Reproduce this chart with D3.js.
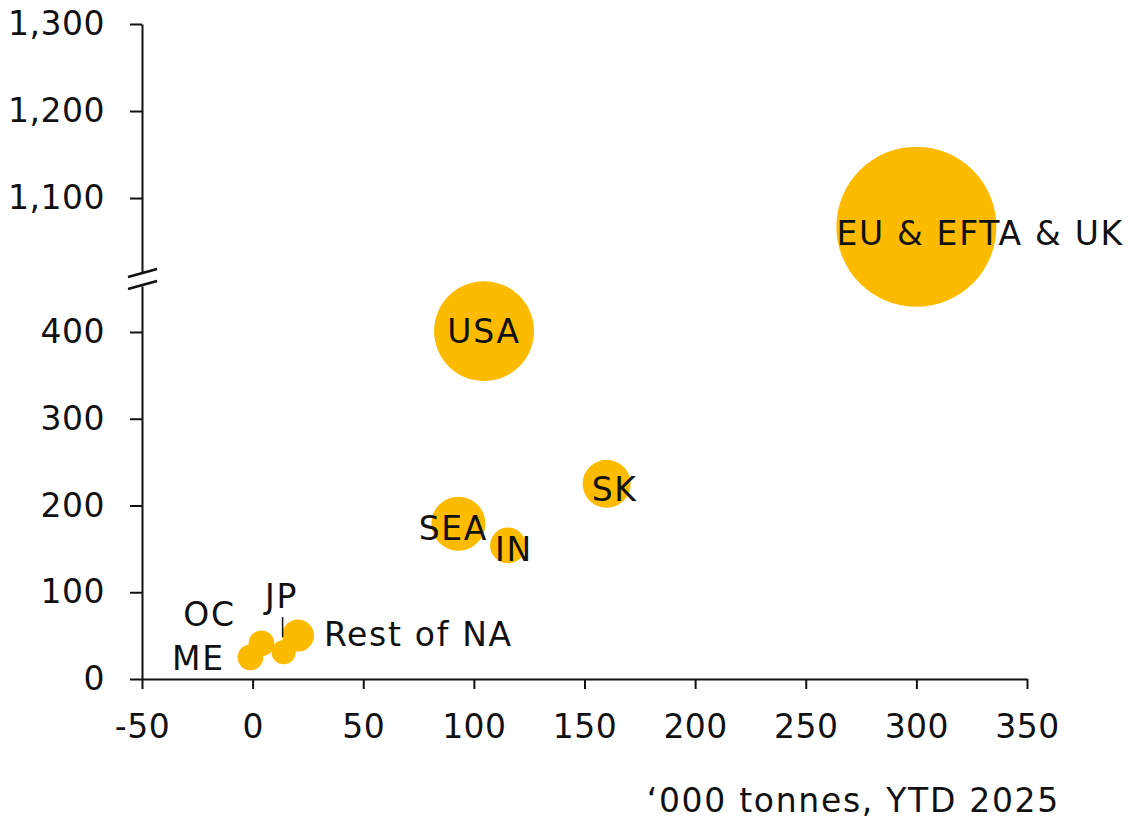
<!DOCTYPE html>
<html><head><meta charset="utf-8">
<script src="https://cdn.jsdelivr.net/npm/d3@7"></script>
<style>body{margin:0;background:#fff}svg{display:block}text{font-family:"DejaVu Sans",sans-serif;fill:#111}</style>
</head><body><svg id="c" width="1135" height="819"></svg>
<script>
// Data
const regions = ["EU & EFTA & UK","USA","SK","SEA","IN","Rest of NA","JP","OC","ME"];
const xValues = [300, 104.6, 160, 93, 115.4, 20.5, 14, 4, -1];
const yValues = [1067, 401, 225, 179, 154, 50, 31, 41, 25];
const sizes   = [100, 39, 9, 11.4, 5, 4, 2.3, 2.6, 2.6];
const xTicks = [-50,0,50,100,150,200,250,300,350];
const yTicksLow = [0,100,200,300,400];
const yTicksHigh = [1100,1200,1300];
const xTitle = "\u2018000 tonnes, YTD 2025";

// Layout (label offsets in px relative to bubble centre, anchor)
const labelLayout = {
  "EU & EFTA & UK":{dx:-80,dy:7,anchor:"start"},
  "USA":{dx:0,dy:0,anchor:"middle"},
  "SK":{dx:8,dy:6,anchor:"middle"},
  "SEA":{dx:-5,dy:5,anchor:"middle"},
  "IN":{dx:6,dy:4,anchor:"middle"},
  "Rest of NA":{dx:26,dy:-1,anchor:"start"},
  "JP":{dx:-2,dy:-56,anchor:"middle"},
  "OC":{dx:-52,dy:-29,anchor:"middle"},
  "ME":{dx:-52,dy:1,anchor:"middle"}
};

const svg = d3.select("#c");
const FS = 33, LS = 1.7;
const x = d3.scaleLinear().domain([-50,350]).range([142,1027]);
const yLow = d3.scaleLinear().domain([0,453]).range([679,286]);
const yHigh = d3.scaleLinear().domain([1015,1300]).range([272,24]);
const y = v => v > 700 ? yHigh(v) : yLow(v);
const r = d3.scaleSqrt().domain([0, d3.max(sizes)]).range([0,80]);

const fmt = d3.format(",");
function styleAxis(g){
  g.selectAll("path,line").attr("stroke","#111").attr("stroke-width",2);
  g.selectAll("text").style("font-size",FS+"px").style("letter-spacing","0.5px").style("font-family",'"DejaVu Sans",sans-serif').attr("fill","#111");
}
svg.append("g").attr("transform","translate(0,679)")
  .call(d3.axisBottom(x).tickValues(xTicks).tickFormat(d=>d).tickSize(10).tickSizeOuter(0).tickPadding(26))
  .call(styleAxis);
svg.append("g").attr("transform","translate(142,0)")
  .call(d3.axisLeft(yLow).tickValues(yTicksLow).tickFormat(fmt).tickSize(12).tickSizeOuter(0).tickPadding(25))
  .call(styleAxis);
svg.append("g").attr("transform","translate(142,0)")
  .call(d3.axisLeft(yHigh).tickValues(yTicksHigh).tickFormat(fmt).tickSize(12).tickSizeOuter(0).tickPadding(25))
  .call(styleAxis);
// break marks
svg.append("line").attr("x1",128).attr("y1",277).attr("x2",157).attr("y2",269).attr("stroke","#111").attr("stroke-width",2.5);
svg.append("line").attr("x1",128).attr("y1",289).attr("x2",157).attr("y2",281).attr("stroke","#111").attr("stroke-width",2.5);

const data = regions.map((n,i)=>({name:n,x:xValues[i],y:yValues[i],s:sizes[i]}));
svg.append("g").selectAll("circle").data(data).join("circle")
  .attr("cx",d=>x(d.x)).attr("cy",d=>y(d.y)).attr("r",d=>r(d.s)).attr("fill","#FDBB00");

// JP leader line
const jp = data.find(d=>d.name==="JP");
svg.append("line").attr("x1",x(jp.x)-1).attr("x2",x(jp.x)-1)
  .attr("y1",y(jp.y)-35).attr("y2",y(jp.y)-15).attr("stroke","#111").attr("stroke-width",1.5);

svg.append("g").selectAll("text").data(data).join("text")
  .attr("x",d=>x(d.x)+labelLayout[d.name].dx)
  .attr("y",d=>y(d.y)+labelLayout[d.name].dy)
  .attr("dy","0.35em")
  .attr("text-anchor",d=>labelLayout[d.name].anchor)
  .style("font-size",FS+"px").style("letter-spacing",LS+"px")
  .text(d=>d.name);

svg.append("text").attr("x",1060).attr("y",812).attr("text-anchor","end")
  .style("font-size",FS+"px").style("letter-spacing",LS+"px").text(xTitle);
</script></body></html>
